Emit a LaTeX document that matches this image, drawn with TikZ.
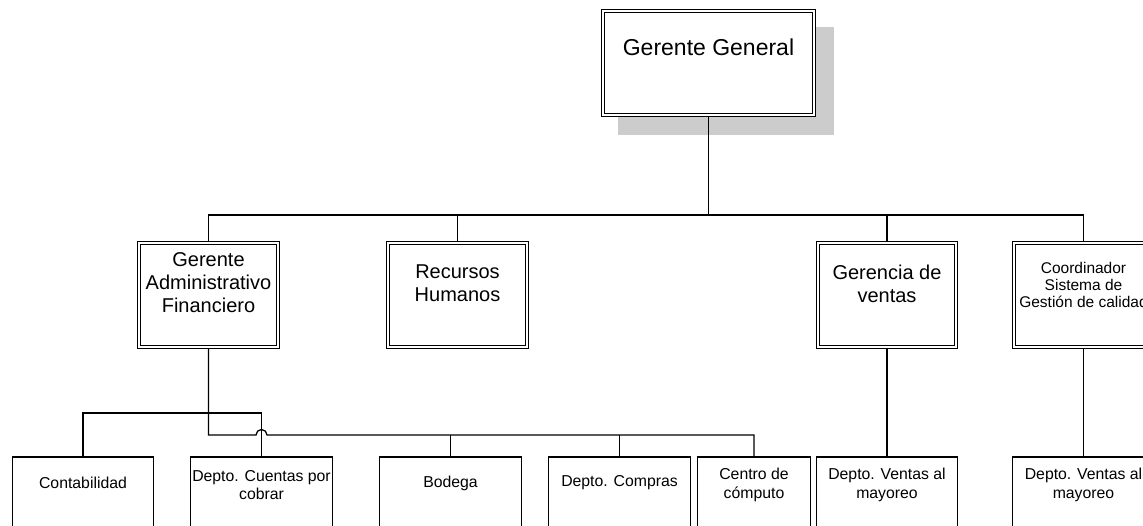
\documentclass[tikz,border=0pt]{standalone}
\usepackage{fontspec}
\setmainfont{Liberation Sans}
\usetikzlibrary{calc}
\begin{document}
\begin{tikzpicture}[x=1pt,y=-1pt,
  boss/.style={draw, line width=1.3pt, fill=white,
    minimum width=#1-1.3pt, minimum height=106.7pt, inner sep=0pt},
  rim/.style={line width=1pt},
  unit/.style={draw, line width=1.2pt, fill=white,
    minimum width=#1-1.2pt, minimum height=110pt, inner sep=0pt},
  big/.style={font=\fontsize{23}{26}\selectfont, align=center, inner sep=0pt},
  mid/.style={font=\fontsize{20}{23}\selectfont, align=center, inner sep=0pt},
  small/.style={font=\fontsize{15.5}{17}\selectfont, align=center, inner sep=0pt},
  low/.style={font=\fontsize{15.8}{18.5}\selectfont, align=center, inner sep=0pt},
  wire/.style={line width=1.3pt}]
\useasboundingbox (0,0) rectangle (1143,525);
\begin{scope}
\clip (0,0) rectangle (1143,525);

% top box with its drop shadow
\fill[gray!40] (618,27) rectangle (834,135);
\node[boss=215pt] (gg) at (708.5,63) {};
\node[big] (ggt) at (708.5,47) {Gerente General};

% second level
\node[boss=143pt] (gaf) at (208.5,295) {};
\node[mid] (gaft) at (208.5,283) {Gerente\\Administrativo\\Financiero};
\node[boss=143pt] (rh) at (457.5,295) {};
\node[mid] (rht) at (457.5,283.5) {Recursos\\Humanos};
\node[boss=142pt] (ven) at (887,295) {};
\node[mid] (vent) at (887,283.5) {Gerencia de\\ventas};
\node[boss=143pt] (coo) at (1083.5,295) {};
\node[small] (coot) at (1083.5,285) {Coordinador\\Sistema de\\Gestión de calidad};

% inner rules of the double-framed boxes
\foreach \b in {gg,gaf,rh,ven,coo}
  \draw[rim] ($(\b.north west)+(3.2,3.2)$) rectangle ($(\b.south east)+(-3.2,-3.2)$);

% third level
\node[unit=142pt] (con) at (83,512) {};
\node[low] (cont) at (83,483) {Contabilidad};
\node[unit=143pt] (cxc) at (261.5,512) {};
\node[low] (cxct) at (261.5,485) {Depto. Cuentas por\\cobrar};
\node[unit=143pt] (bod) at (450.5,512) {};
\node[low] (bodt) at (450.5,483) {Bodega};
\node[unit=143pt] (com) at (619.5,512) {};
\node[low] (comt) at (619.5,483) {Depto. Compras};
\node[unit=114pt] (cen) at (754,512) {};
\node[low] (cent) at (754,485) {Centro de\\cómputo};
\node[unit=142pt] (vm) at (887,512) {};
\node[low] (vmt) at (887,485) {Depto. Ventas al\\mayoreo};
\node[unit=143pt] (vm2) at (1083.5,512) {};
\node[low] (vm2t) at (1083.5,485) {Depto. Ventas al\\mayoreo};

% bus lines
\coordinate (bus) at (709,215);
\coordinate (ub) at (0,413);
\coordinate (lb) at (0,435);

\draw[wire] (gg.south) -- (gg.south |- bus);
\draw[wire] (gaf.north) -- (gaf.north |- bus) -- (coo.north |- bus) -- (coo.north);
\draw[wire] (rh.north) -- (rh.north |- bus);
\draw[wire] (ven.north) -- (ven.north |- bus);

\draw[wire] (ven.south) -- (vm.north);
\draw[wire] (coo.south) -- (vm2.north);

\draw[wire] (con.north) -- (con.north |- ub) -- (cxc.north |- ub) -- (cxc.north);
\draw[wire] (gaf.south) -- (gaf.south |- lb) -- ($(cxc.north |- lb)+(-5.5,0)$)
  arc[start angle=180, end angle=0, radius=5.5pt] -- (cen.north |- lb) -- (cen.north);
\draw[wire] (bod.north) -- (bod.north |- lb);
\draw[wire] (com.north) -- (com.north |- lb);
\end{scope}
\end{tikzpicture}
\end{document}
